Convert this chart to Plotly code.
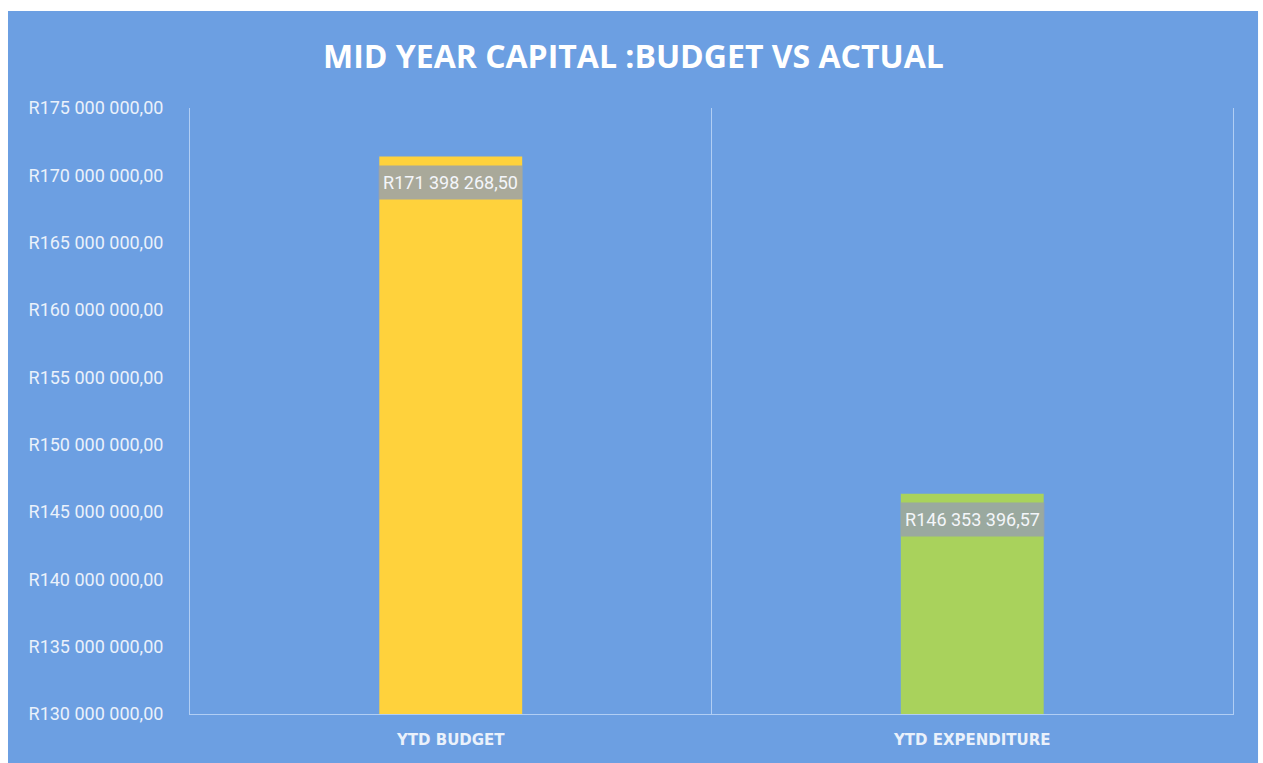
import plotly.graph_objects as go

categories = ["YTD BUDGET", "YTD EXPENDITURE"]
values = [171398268.50, 146353396.57]
value_labels = ["R171 398 268,50", "R146 353 396,57"]
bar_colors = ["#ffd23c", "#a9d25c"]
tick_vals = [130e6, 135e6, 140e6, 145e6, 150e6, 155e6, 160e6, 165e6, 170e6, 175e6]
tick_text = ["R130 000 000,00", "R135 000 000,00", "R140 000 000,00", "R145 000 000,00",
             "R150 000 000,00", "R155 000 000,00", "R160 000 000,00", "R165 000 000,00",
             "R170 000 000,00", "R175 000 000,00"]

BLUE = "#6c9fe2"
GRID = "rgba(200,222,250,0.75)"
TXT = "#eaf1fb"

fig = go.Figure()
fig.add_trace(go.Bar(
    x=categories, y=values, marker=dict(color=bar_colors, line=dict(width=0)),
    width=0.274, hoverinfo="skip",
))

for c, v, t in zip(categories, values, value_labels):
    fig.add_annotation(
        x=c, y=v, xref="x", yref="y", text=t, showarrow=False,
        yanchor="top", yshift=-8, width=137, height=27, borderpad=3,
        bgcolor="rgba(150,160,175,0.82)",
        font=dict(family="Roboto", size=18, color="#f4f6fa"),
    )

fig.add_shape(type="rect", xref="paper", yref="paper",
              x0=-0.1745, x1=1.024, y0=-0.12, y1=1.160,
              fillcolor=BLUE, line=dict(width=0), layer="below")

fig.update_layout(
    width=1263, height=763,
    margin=dict(l=190, r=30, t=108, b=49),
    paper_bgcolor="white", plot_bgcolor="rgba(0,0,0,0)",
    showlegend=False, bargap=0.726,
    title=dict(text="<b>MID YEAR CAPITAL :BUDGET VS ACTUAL</b>",
               x=0.5015, xanchor="center", y=0.925, yanchor="middle",
               font=dict(family="Open Sans", size=32, color="white")),
    xaxis=dict(type="category", range=[-0.5, 1.5], tickson="boundaries",
               showgrid=True, gridcolor=GRID, gridwidth=1,
               showline=True, linecolor=GRID, linewidth=1,
               ticks="", zeroline=False, ticklabelstandoff=12,
               tickfont=dict(family="DejaVu Sans", size=15, color=TXT, weight="bold")),
    yaxis=dict(range=[130e6, 175e6], tickvals=tick_vals, ticktext=tick_text,
               showgrid=False, zeroline=False, showline=True, mirror=True,
               linecolor=GRID, linewidth=1, ticks="",
               ticklabelstandoff=22,
               tickfont=dict(family="Roboto", size=18, color=TXT)),
)

fig.write_html("out.html")
